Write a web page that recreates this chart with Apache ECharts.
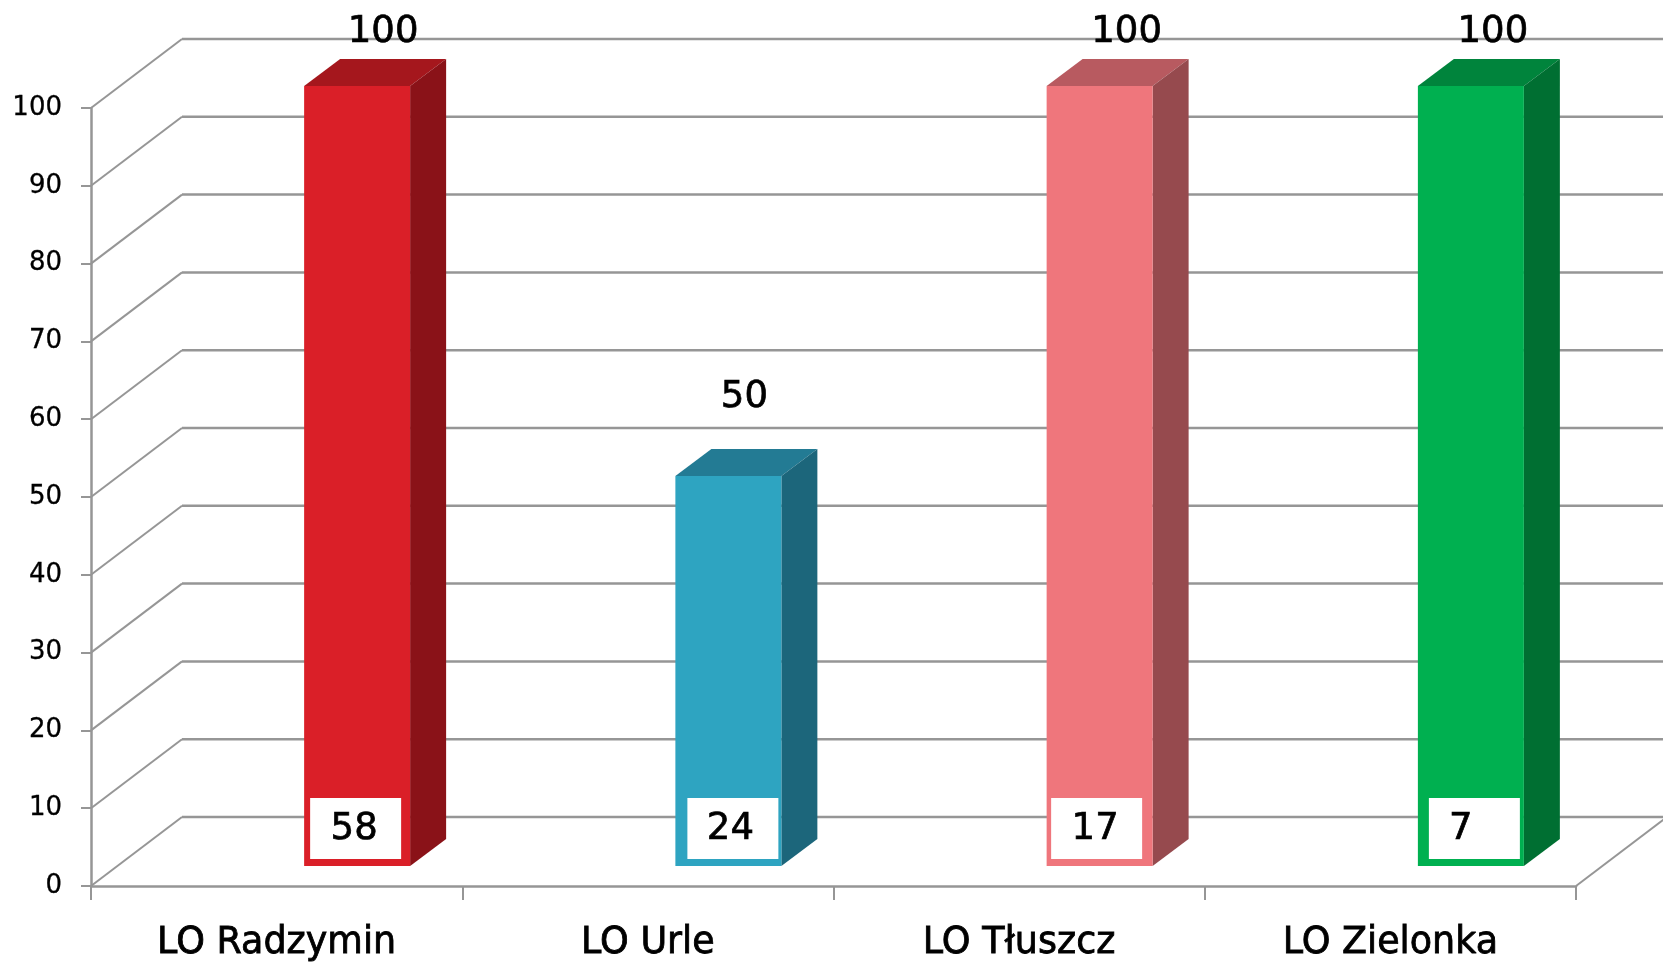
<!DOCTYPE html>
<html><head><meta charset="utf-8">
<style>html,body{margin:0;padding:0;background:#fff}#c{width:1663px;height:963px}</style>
<script src="https://cdn.jsdelivr.net/npm/echarts@6/dist/echarts.min.js"></script>
</head><body><div id="c"></div>
<script>
const categories = ['LO Radzymin', 'LO Urle', 'LO Tłuszcz', 'LO Zielonka'];
const barValues = [100, 50, 100, 100];
const boxValues = [58, 24, 17, 7];
const tickValues = [0, 10, 20, 30, 40, 50, 60, 70, 80, 90, 100];

const frontColors = ['#DA1F28', '#2EA4C1', '#EF767C', '#00B050'];
const topColors = ['#A5171D', '#237B94', '#B85A60', '#00843C'];
const sideColors = ['#8A1218', '#1C667B', '#964A4E', '#006F32'];
const boxOffsets = [6, 12, 4.5, 11];
const boxTextOffsets = [44, 43, 44, 32];
const labelShiftX = [26, 16, 27, 22];
const labelLift = [54, 79, 54, 54];

const WALL_DX = 91, WALL_DY = 69, BAR_DX = 36, BAR_DY = 27;
const FONT = '"DejaVu Sans", sans-serif';
const GRID_COLOR = '#969696';

const chart = echarts.init(document.getElementById('c'));

function wallItem(params, api) {
  const v = api.value(0);
  const p = api.coord([0, v]);
  const cs = params.coordSys;
  const x0 = cs.x, y = p[1];
  const children = [
    { type: 'line', shape: { x1: x0, y1: y, x2: x0 + WALL_DX, y2: y - WALL_DY }, style: { stroke: GRID_COLOR, lineWidth: 2 } },
    { type: 'line', shape: { x1: x0 + WALL_DX, y1: y - WALL_DY, x2: 1700, y2: y - WALL_DY }, style: { stroke: GRID_COLOR, lineWidth: 2.5 } }
  ];
  if (v === 0) {
    const xr = cs.x + cs.width;
    children.push({
      type: 'line',
      shape: { x1: xr, y1: y, x2: xr + WALL_DX, y2: y - WALL_DY },
      style: { stroke: GRID_COLOR, lineWidth: 2 }
    });
  }
  return { type: 'group', children };
}

function valueText(x, y, value) {
  return {
    type: 'text', x: x, y: y,
    style: { text: String(value), font: '37px ' + FONT, fill: '#000', stroke: '#000', lineWidth: 0.7, align: 'center', verticalAlign: 'middle' }
  };
}

function barItem(params, api) {
  const i = params.dataIndex;
  const c = api.coord([i, api.value(1)]);
  const b = api.coord([i, 0]);
  const w = api.size([1, 0])[0] * 0.2855;
  const left = c[0] + 80.5 - w / 2;
  const right = left + w;
  const bottom = b[1] - 20;
  const top = bottom - (b[1] - c[1]) * 780 / 778;
  return {
    type: 'group',
    children: [
      { type: 'polygon', shape: { points: [[left, top], [left + BAR_DX, top - BAR_DY], [right + BAR_DX, top - BAR_DY], [right, top]] }, style: { fill: topColors[i] } },
      { type: 'polygon', shape: { points: [[right, top], [right + BAR_DX, top - BAR_DY], [right + BAR_DX, bottom - BAR_DY], [right, bottom]] }, style: { fill: sideColors[i] } },
      { type: 'rect', shape: { x: left, y: top, width: w, height: bottom - top }, style: { fill: frontColors[i] } },
      valueText(left + w / 2 + labelShiftX[i], top - labelLift[i], api.value(1))
    ]
  };
}

function boxItem(params, api) {
  const i = params.dataIndex;
  const b = api.coord([i, 0]);
  const w = api.size([1, 0])[0] * 0.2855;
  const left = b[0] + 80.5 - w / 2;
  const bottom = b[1] - 20;
  const x = left + boxOffsets[i];
  return {
    type: 'group',
    children: [
      { type: 'rect', shape: { x: x, y: bottom - 68, width: 91, height: 61 }, style: { fill: '#fff' } },
      valueText(x + boxTextOffsets[i], bottom - 37, api.value(1))
    ]
  };
}

chart.setOption({
  animation: false,
  backgroundColor: '#fff',
  grid: { left: 91, top: 108, width: 1485, height: 778 },
  xAxis: {
    type: 'category',
    data: categories,
    boundaryGap: true,
    axisLine: { show: true, lineStyle: { color: GRID_COLOR, width: 2.5 } },
    axisTick: { show: true, length: 14, alignWithLabel: false, lineStyle: { color: GRID_COLOR, width: 2 } },
    axisLabel: { color: '#000', fontFamily: FONT, fontSize: 36.5, margin: 39, interval: 0, textBorderColor: '#000', textBorderWidth: 0.8 }
  },
  yAxis: {
    type: 'value', min: 0, max: 100, interval: 10,
    axisLine: { show: true, lineStyle: { color: GRID_COLOR, width: 2.5 } },
    axisTick: { show: true, length: 10, lineStyle: { color: GRID_COLOR, width: 2 } },
    splitLine: { show: false },
    axisLabel: { color: '#000', fontFamily: FONT, fontSize: 26, margin: 29, textBorderColor: '#000', textBorderWidth: 0.3 }
  },
  series: [
    { type: 'custom', coordinateSystem: 'cartesian2d', clip: false, renderItem: wallItem, encode: { y: 0 }, data: tickValues.map(v => [v]), z: 1, silent: true },
    { type: 'custom', coordinateSystem: 'cartesian2d', clip: false, renderItem: barItem, encode: { x: 0, y: 1 }, data: barValues.map((v, i) => [i, v]), z: 2 },
    { type: 'custom', coordinateSystem: 'cartesian2d', clip: false, renderItem: boxItem, encode: { x: 0, y: 1 }, data: boxValues.map((v, i) => [i, v]), z: 3 }
  ]
});
</script></body></html>
